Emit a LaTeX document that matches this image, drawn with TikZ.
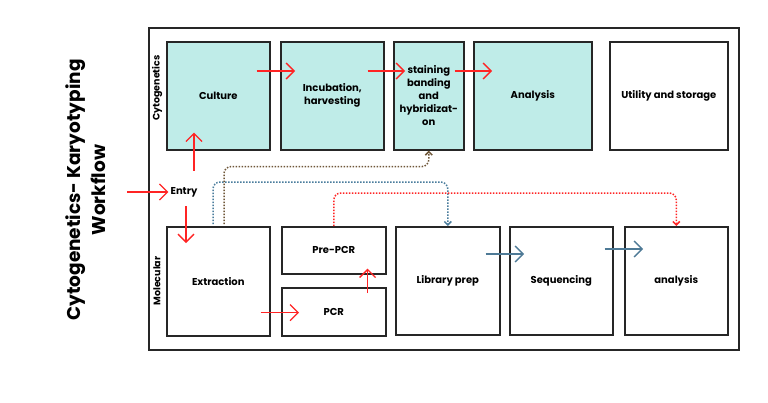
\documentclass[tikz,border=0pt]{standalone}
\usepackage{fontspec}
\setmainfont{Poppins}
\usetikzlibrary{arrows.meta,calc}
\definecolor{teal}{HTML}{BFECE8}
\definecolor{redl}{HTML}{FF2424}
\definecolor{bluel}{HTML}{4E7A96}
\definecolor{brownl}{HTML}{6E5638}
\definecolor{bluedot}{HTML}{4A7C9C}
\tikzset{
  box/.style={draw=black!85, line width=1.6pt, anchor=north west, inner sep=2pt,
    font=\fontsize{10}{13}\selectfont\bfseries, align=center},
  cyto/.style={box, fill=teal},
  redarrow/.style={draw=redl, line width=1.3pt, -{Straight Barb[length=8pt,width=16pt,line width=1.3pt]}},
  bluearrow/.style={draw=bluel, line width=1.3pt, -{Straight Barb[length=8pt,width=16pt,line width=1.3pt]}},
  dotline/.style={line width=1.5pt, dash pattern=on 1.5pt off 1.5pt, rounded corners=7pt,
    -{Straight Barb[length=3.5pt,width=7pt,line width=1.5pt]}},
  sidelab/.style={rotate=90, font=\fontsize{9.5}{11}\selectfont\bfseries},
}
\begin{document}
\begin{tikzpicture}[x=1pt,y=-1pt]
\useasboundingbox (0,0) rectangle (768,402);
% outer frame
\node[draw=black!85, line width=1.6pt, anchor=north west, minimum width=590pt, minimum height=322pt, inner sep=0pt] (frame) at (148,27) {};
% title
\node[rotate=90, font=\fontsize{18.5}{25}\selectfont\bfseries, align=center] (title) at (86,190) {Cytogenetics- Karyotyping\\Workflow};
% side labels
\node[sidelab] (lcyto) at (157,88) {Cytogenetics};
\node[sidelab] (lmol) at (157,281) {Molecular};
% top row
\node[cyto, minimum width=103pt, minimum height=108pt] (cult) at (166,41) {Culture};
\node[cyto, minimum width=103pt, minimum height=108pt] (incu) at (280,41) {Incubation,\\harvesting};
\node[cyto, minimum width=70pt, minimum height=108pt] (stain) at (393,41) {staining\\banding\\and\\hybridizat-\\on};
\node[cyto, minimum width=118pt, minimum height=108pt] (anal) at (473,41) {Analysis};
\node[box, minimum width=118pt, minimum height=108pt] (util) at (609,41) {Utility and storage};
% bottom row
\node[box, minimum width=103pt, minimum height=109pt] (extr) at (166,226) {Extraction};
\node[box, minimum width=104pt, minimum height=47pt] (pre) at (281,226) {Pre-PCR};
\node[box, minimum width=104pt, minimum height=48pt] (pcr) at (281,287) {PCR};
\node[box, minimum width=104pt, minimum height=108pt] (lib) at (395,226) {Library prep};
\node[box, minimum width=103pt, minimum height=108pt] (seq) at (509,226) {Sequencing};
\node[box, minimum width=103pt, minimum height=108pt] (ana2) at (624,226) {analysis};
% entry
\node[font=\fontsize{10}{12}\selectfont\bfseries, inner sep=2pt] (entry) at (184,192) {Entry};
\coordinate (in) at (127,192);
% red arrows
\draw[redarrow] (in) -- (entry.west);
\draw[redarrow] ($(entry.north)+(10,-14)$) -- ($(cult.south west)+(28,-18)$);
\draw[redarrow] ($(entry.south)+(2,7)$) -- ($(extr.north west)+(20,17)$);
\draw[redarrow] ($(cult.north east)+(-14,30)$) -- ($(incu.north west)+(15,30)$);
\draw[redarrow] ($(incu.north east)+(-17,30)$) -- ($(stain.north west)+(12,30)$);
\draw[redarrow] ($(stain.north east)+(-10,30)$) -- ($(anal.north west)+(19,30)$);
\draw[redarrow] ($(extr.south east)+(-10,-24)$) -- ($(pcr.south west)+(18,-24)$);
\draw[redarrow] ($(pcr.north east)+(-19,6)$) -- ($(pre.south east)+(-19,-6)$);
% blue arrows
\draw[bluearrow] ($(lib.north east)+(-15,28)$) -- ($(seq.north west)+(15,28)$);
\draw[bluearrow] ($(seq.north east)+(-9,23)$) -- ($(ana2.north west)+(19,23)$);
% dotted connectors
\draw[dotline, draw=bluedot] ($(extr.north west)+(47,-2)$) |- ($(lib.north)+(0,-44)$) -- (lib.north);
\draw[dotline, draw=brownl] ($(extr.north west)+(58,-2)$) |- ($(stain.south)+(0,16)$) -- (stain.south);
\draw[dotline, draw=redl] (pre.north) |- ($(ana2.north)+(0,-33)$) -- (ana2.north);
\end{tikzpicture}
\end{document}
